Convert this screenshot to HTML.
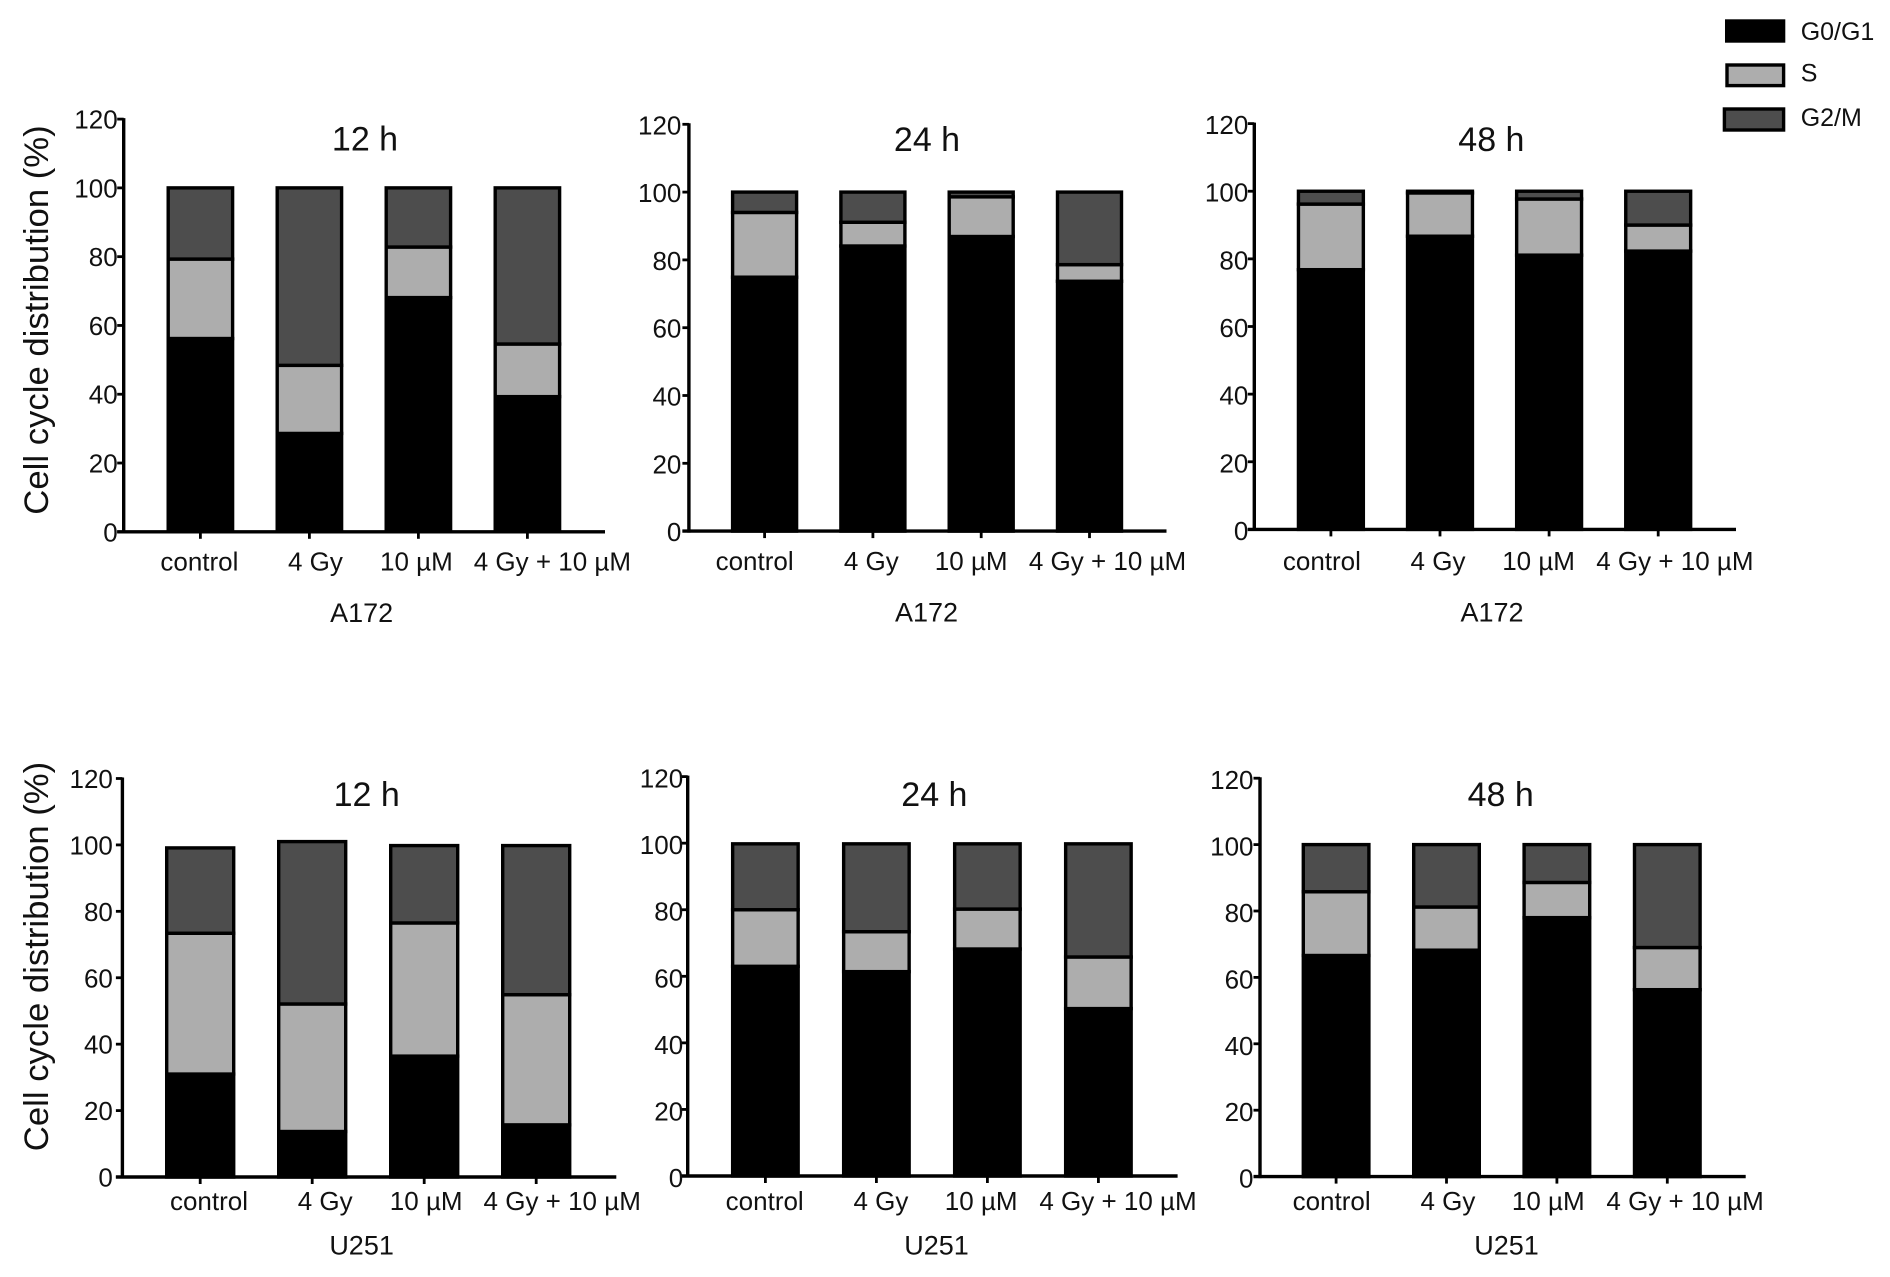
<!DOCTYPE html>
<html lang="en">
<head>
<meta charset="utf-8">
<title>Cell cycle distribution</title>
<style>
html,body{margin:0;padding:0;background:#fff;}
svg{display:block;}
text{font-family:"Liberation Sans",Arial,sans-serif;fill:#111;}
</style>
</head>
<body>
<svg id="figure" xmlns="http://www.w3.org/2000/svg" width="1890" height="1277" viewBox="0 0 1890 1277">
  <rect x="0" y="0" width="1890" height="1277" fill="#fff"/>
  <g>
    <g>
      <rect x="1726.7" y="21" width="56.9" height="20" fill="#000" stroke="#000" stroke-width="3.4"/>
      <text x="1800.7" y="40" font-size="25">G0/G1</text>
    </g>
    <g>
      <rect x="1727" y="65" width="56.6" height="20.6" fill="#adadad" stroke="#000" stroke-width="3.4"/>
      <text x="1800.7" y="81.7" font-size="25">S</text>
    </g>
    <g>
      <rect x="1724.4" y="109" width="59.2" height="21" fill="#4d4d4d" stroke="#000" stroke-width="3.4"/>
      <text x="1800.7" y="126" font-size="25">G2/M</text>
    </g>
  </g>
</svg>
<script>
const categories = ["control", "4 Gy", "10 µM", "4 Gy + 10 µM"];
const yTickLabels = [0, 20, 40, 60, 80, 100, 120];
const phaseNames = ["g0-g1", "s", "g2-m"];

const a172h12G0 = [56.2, 28.6, 68.1, 39.3];
const a172h12S = [23.1, 19.8, 14.7, 15.3];
const a172h12G2M = [20.7, 51.6, 17.2, 45.4];

const a172h24G0 = [74.9, 84.1, 86.9, 73.7];
const a172h24S = [19.1, 7.0, 11.7, 4.9];
const a172h24G2M = [6.0, 8.9, 1.4, 21.4];

const a172h48G0 = [76.8, 86.7, 81.1, 82.3];
const a172h48S = [19.4, 12.8, 16.6, 7.7];
const a172h48G2M = [3.8, 0.5, 2.3, 10.0];

const u251h12G0 = [31.0, 13.7, 36.4, 15.7];
const u251h12S = [42.4, 38.4, 40.1, 39.2];
const u251h12G2M = [25.7, 48.9, 23.3, 44.9];

const u251h24G0 = [63.0, 61.4, 68.2, 50.3];
const u251h24S = [17.0, 12.0, 12.0, 15.5];
const u251h24G2M = [19.8, 26.4, 19.6, 34.0];

const u251h48G0 = [66.6, 68.2, 78.0, 56.3];
const u251h48S = [19.2, 13.0, 10.6, 12.7];
const u251h48G2M = [14.2, 18.8, 11.4, 31.0];

const panelLayouts = [
  {key:"a172-12h", title:"12 h", group:"A172", g0:a172h12G0, s:a172h12S, g2m:a172h12G2M,
   axisX:123.7, baseY:531.8, topY:119.1, axisRight:605, firstBar:200.4, barStep:109, barWidth:67.8, tickGap:6, labelDy:9.5,
   shifts:[-1,6,-2,25], titleX:365, titleY:150.7, labelY:570.4, groupX:361.6, groupY:622, yTitleY:320},
  {key:"a172-24h", title:"24 h", group:"A172", g0:a172h24G0, s:a172h24S, g2m:a172h24G2M,
   axisX:688.9, baseY:531.1, topY:124.3, axisRight:1166.5, firstBar:764.6, barStep:108.3, barWidth:67.4, tickGap:7.5, labelDy:10,
   shifts:[-10,-1.6,-10,18], titleX:927, titleY:151, labelY:570, groupX:926.5, groupY:621.7},
  {key:"a172-48h", title:"48 h", group:"A172", g0:a172h48G0, s:a172h48S, g2m:a172h48G2M,
   axisX:1254.3, baseY:529.4, topY:123.6, axisRight:1736, firstBar:1330.9, barStep:109.1, barWidth:68.3, tickGap:6, labelDy:10.5,
   shifts:[-9,-2,-10.5,16.7], titleX:1491.4, titleY:151, labelY:570, groupX:1492, groupY:621.7},
  {key:"u251-12h", title:"12 h", group:"U251", g0:u251h12G0, s:u251h12S, g2m:u251h12G2M,
   axisX:122.4, baseY:1177, topY:778.5, axisRight:616.3, firstBar:200.2, barStep:112, barWidth:70.4, tickGap:9.5, labelDy:9.5,
   shifts:[8.8,13,2,26], titleX:366.7, titleY:805.8, labelY:1210, groupX:361.6, groupY:1254.7, yTitleY:956.5},
  {key:"u251-24h", title:"24 h", group:"U251", g0:u251h24G0, s:u251h24S, g2m:u251h24G2M,
   axisX:687.7, baseY:1176, topY:776.6, axisRight:1177.6, firstBar:765.4, barStep:111, barWidth:68.9, tickGap:4.5, labelDy:11,
   shifts:[-0.7,4.5,-6.2,19.6], titleX:934.4, titleY:805.8, labelY:1210, groupX:936.5, groupY:1254.7},
  {key:"u251-48h", title:"48 h", group:"U251", g0:u251h48G0, s:u251h48S, g2m:u251h48G2M,
   axisX:1260, baseY:1176.6, topY:778.2, axisRight:1745.7, firstBar:1336.1, barStep:110.4, barWidth:69, tickGap:6.5, labelDy:11,
   shifts:[-4.5,1.4,-8.6,17.8], titleX:1500.7, titleY:805.8, labelY:1210, groupX:1506.5, groupY:1254.7}
];

const phaseFills = ["#000000", "#adadad", "#4d4d4d"];
const SVG_NS = "http://www.w3.org/2000/svg";
const figure = document.getElementById("figure");
const BAR_STROKE = 3.4;

function create(tag, parent, props) {
  const node = document.createElementNS(SVG_NS, tag);
  for (const k in props) node.setAttribute(k, props[k]);
  parent.appendChild(node);
  return node;
}

panelLayouts.forEach(function (p) {
  const yAxisFn = function (v) { return p.baseY - v * (p.baseY - p.topY) / 120; };
  const xAxisFn = function (i) { return p.firstBar + i * p.barStep; };

  const panel = create("g", figure, {});
  
  

  categories.forEach(function (cat, i) {
    const bar = create("g", panel, {});
    
    
    const stack = [p.g0[i], p.s[i], p.g2m[i]];
    let running = 0;
    stack.forEach(function (val, k) {
      const yBottom = yAxisFn(running);
      const yTop = yAxisFn(running + val);
      running += val;
      const seg = create("rect", bar, {
        x: xAxisFn(i) - (p.barWidth - BAR_STROKE) / 2,
        y: yTop,
        width: p.barWidth - BAR_STROKE,
        height: yBottom - yTop,
        fill: phaseFills[k],
        stroke: "#000",
        "stroke-width": BAR_STROKE
      });
      
      
    });
  });

  const yAxis = create("line", panel, {x1:p.axisX, x2:p.axisX, y1:p.topY - 1, y2:p.baseY + 1.5, stroke:"#000", "stroke-width":3.4});
  
  

  const xAxis = create("line", panel, {x1:p.axisX - 6.5, x2:p.axisRight, y1:p.baseY, y2:p.baseY, stroke:"#000", "stroke-width":3.4});
  
  

  yTickLabels.forEach(function (t) {
    const ty = yAxisFn(t);
    const tick = create("line", panel, {x1:p.axisX - 6.5, x2:p.axisX, y1:ty, y2:ty, stroke:"#000", "stroke-width":2.8});
    
    
    const lab = create("text", panel, {x:p.axisX - p.tickGap, y:ty + p.labelDy, "text-anchor":"end", "font-size":26});
    
    
    lab.textContent = t;
  });

  categories.forEach(function (cat, i) {
    const cx = xAxisFn(i);
    const tick = create("line", panel, {x1:cx, x2:cx, y1:p.baseY, y2:p.baseY + 7, stroke:"#000", "stroke-width":2.8});
    
    
    const lab = create("text", panel, {x:cx + p.shifts[i], y:p.labelY, "text-anchor":"middle", "font-size":26});
    
    
    lab.textContent = cat;
  });

  const title = create("text", panel, {x:p.titleX, y:p.titleY, "text-anchor":"middle", "font-size":34});
  
  
  title.textContent = p.title;

  const group = create("text", panel, {x:p.groupX, y:p.groupY, "text-anchor":"middle", "font-size":27});
  
  
  group.textContent = p.group;

  if (p.yTitleY) {
    const yt = create("text", panel, {x:0, y:0, "text-anchor":"middle", "font-size":34.7, transform:"translate(48," + p.yTitleY + ") rotate(-90)"});
    
    
    yt.textContent = "Cell cycle distribution (%)";
  }
});
</script>
</body>
</html>
